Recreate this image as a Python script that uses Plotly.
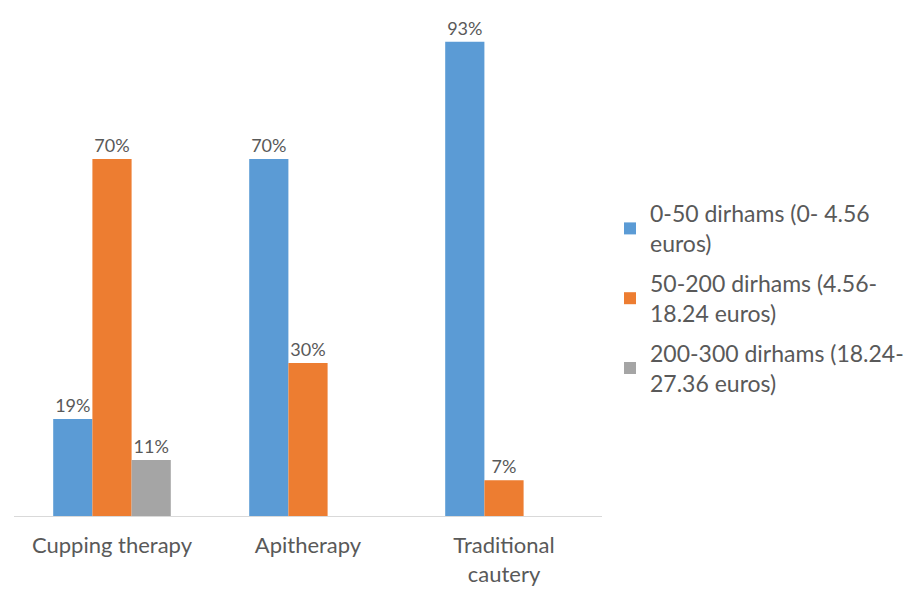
import plotly.graph_objects as go

categories = ["Cupping therapy", "Apitherapy", "Traditional<br>cautery"]
series_names = [
    "0-50 dirhams (0- 4.56<br>euros)",
    "50-200 dirhams (4.56-<br>18.24 euros)",
    "200-300 dirhams (18.24-<br>27.36 euros)",
]
low_range = [19, 70, 93]
mid_range = [70, 30, 7]
high_range = [11, None, None]
colors = ["#5B9BD5", "#ED7D31", "#A5A5A5"]

TEXT = "#595959"
FONT = "Lato"

fig = go.Figure()
for i, (name, vals, col) in enumerate(zip(series_names, [low_range, mid_range, high_range], colors)):
    fig.add_trace(go.Bar(
        x=categories,
        y=vals,
        name=name,
        legendgroup=f"g{i}",
        marker=dict(color=col, line=dict(width=0)),
        text=[f"{v}%" if v is not None else "" for v in vals],
        textposition="outside",
        textfont=dict(family=FONT, size=18, color=TEXT),
        cliponaxis=False,
    ))

fig.update_layout(
    width=919,
    height=591,
    barmode="group",
    bargap=0.4,
    bargroupgap=0,
    plot_bgcolor="white",
    paper_bgcolor="white",
    margin=dict(l=14, r=317, t=6, b=75),
    font=dict(family=FONT, color=TEXT),
    showlegend=True,
    legend=dict(
        xref="container", yref="container",
        x=610 / 919, y=1 - 192 / 591,
        xanchor="left", yanchor="top",
        font=dict(family=FONT, size=23, color=TEXT),
        traceorder="grouped",
        tracegroupgap=7,
        itemwidth=30,
    ),
    xaxis=dict(
        showline=True, linecolor="#D9D9D9", linewidth=1,
        tickfont=dict(family=FONT, size=22, color=TEXT),
        ticks="", showgrid=False,
        ticklabelstandoff=10,
        automargin=False,
    ),
    yaxis=dict(
        range=[0, 100], visible=False, showgrid=False, zeroline=False,
        automargin=False,
    ),
)

fig.write_html("out.html")
